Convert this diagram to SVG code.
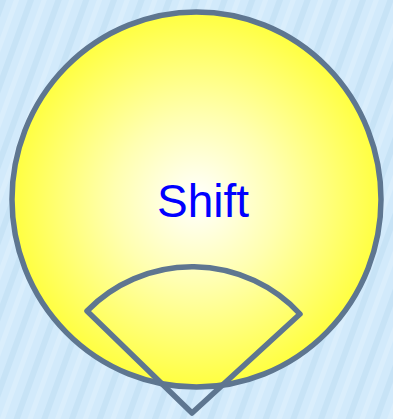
<svg xmlns="http://www.w3.org/2000/svg" width="393" height="419" viewBox="0 0 393 419">
<defs>
<pattern id="stripes" width="26" height="26" patternUnits="userSpaceOnUse" patternTransform="rotate(20)">
<rect width="26" height="26" fill="#d2eafb"/>
<rect x="0" width="6" height="26" fill="#c0def4" opacity="0.6"/>
<rect x="13" width="5" height="26" fill="#ddf0fd" opacity="0.7"/>
</pattern>
<radialGradient id="glow" cx="0.5" cy="0.5" r="0.5">
<stop offset="0" stop-color="#ffffff"/>
<stop offset="0.45" stop-color="#ffffb0"/>
<stop offset="1" stop-color="#ffff40"/>
</radialGradient>
<style>
.shape{stroke:#5e7690;stroke-width:5.5;stroke-linejoin:round}
.label{font-family:"Liberation Sans",Arial,sans-serif;font-size:46px;fill:#0000ff;text-anchor:middle}
</style>
</defs>
<rect width="393" height="419" fill="url(#stripes)"/>
<g id="node-shift">
<ellipse class="shape" cx="196.5" cy="199.5" rx="184.5" ry="187.5" fill="url(#glow)"/>
<text class="label" x="203" y="217">Shift</text>
</g>
<g id="connectors"></g>
<g id="node-sector">
<path class="shape" d="M192,413 L87,311 A147,147 0 0 1 300,314 Z" fill="none"/>
</g>
</svg>
